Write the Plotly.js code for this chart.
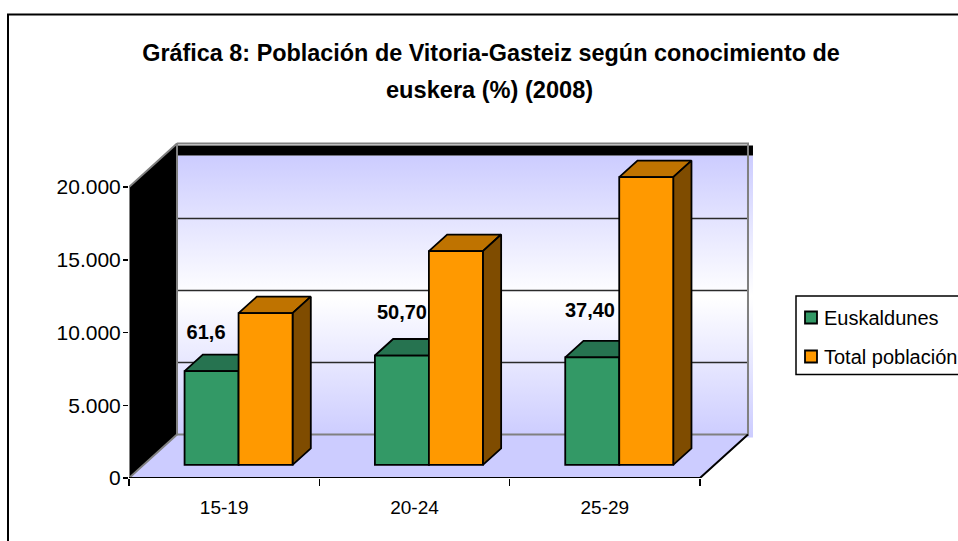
<!DOCTYPE html>
<html>
<head>
<meta charset="utf-8">
<script src="https://cdn.plot.ly/plotly-3.0.1.min.js"></script>
<style>html,body{margin:0;padding:0;background:#fff;overflow:hidden;width:958px;height:541px}</style>
</head>
<body>
<div id="chart"></div>
<script>
// ---- data ----
const categories = ['15-19', '20-24', '25-29'];
const euskaldunes = [6450, 7520, 7390];
const totalPoblacion = [10430, 14700, 19780];
const shareLabels = ['61,6', '50,70', '37,40'];
const yTickValues = [0, 5000, 10000, 15000, 20000];
const yTickLabels = ['0', '5.000', '10.000', '15.000', '20.000'];
const xTickEdges = [0, 1, 2, 3];
const titleLine1 = 'Gráfica 8: Población de Vitoria-Gasteiz según conocimiento de';
const titleLine2 = 'euskera (%) (2008)';

// ---- pseudo-3D projection on a normal cartesian subplot ----
const L = 129, R = 760, T = 130, B = 478, W = 990, H = 541;
const pxPerCat = 190.33, pxPerVal = 291 / 20000;
const xMax = (R - L) / pxPerCat, yMax = (B - T) / pxPerVal;
const DX = 48, DY = 43.5;                       // full depth of the floor, in px
const dx = d => d * DX / pxPerCat;              // depth d (0..1) -> x units
const dy = d => d * DY / pxPerVal;              // depth d (0..1) -> y units
const barFront = 0.30, barBack = 0.68;
const barW = 54 / pxPerCat;
const wallScale = 0.99;                         // the back wall is slightly foreshortened
const pX = v => (v - L) / (R - L), pY = v => (B - v) / (B - T);

function poly(xs, ys, fill, lineColor, lineW, z, extra) {
  return Object.assign({
    type: 'scatter', mode: lineColor ? 'lines' : 'none', x: xs, y: ys,
    fill: fill ? 'toself' : 'none', fillcolor: fill || undefined,
    line: {color: lineColor || 'rgba(0,0,0,0)', width: lineW || 0},
    showlegend: false, hoverinfo: 'skip', zorder: z, cliponaxis: false
  }, extra || {});
}

const traces = [];
const yTop = yTickValues[yTickValues.length - 1];
const catEnd = xTickEdges[xTickEdges.length - 1];

// back wall with its gradient
const wallRight = catEnd + dx(1) + 5 / pxPerCat;
const wallBottom = dy(1) - 3 / pxPerVal;
const bandBottom = dy(1) + yTop - 12 / pxPerVal;
traces.push(poly([dx(1), wallRight, wallRight, dx(1), dx(1)],
                 [wallBottom, wallBottom, bandBottom, bandBottom, wallBottom],
                 '#CCCCFF', null, 0, 0,
                 {fillgradient: {type: 'vertical', colorscale: [[0, '#CCCCFF'], [0.5, '#FFFFFF'], [1, '#CCCCFF']]}}));
// black band on top of the wall
traces.push(poly([dx(1), wallRight, wallRight, dx(1), dx(1)],
                 [bandBottom, bandBottom, yTop + dy(1) - 2 / pxPerVal, yTop + dy(1) - 2 / pxPerVal, bandBottom],
                 '#000000', null, 0, 0));
// floor
traces.push(poly([0, catEnd, catEnd + dx(1), dx(1), 0], [0, 0, dy(1), dy(1), 0], '#CCCCFF', null, 0, 0));
// gridlines on the wall
yTickValues.slice(1, -1).forEach(v => {
  traces.push(poly([dx(1), catEnd + dx(1)], [v * wallScale + dy(1), v * wallScale + dy(1)], null, '#2a2a2a', 1.5, 0));
});
// wall outline
traces.push(poly([dx(1), catEnd + dx(1), catEnd + dx(1)], [dy(1), dy(1), yTop + dy(1)], null, '#808080', 2, 0));
traces.push(poly([dx(1), catEnd + dx(1), catEnd + dx(1)], [yTop + dy(1), yTop + dy(1), dy(1)], null, '#808080', 2, 0));
// left side wall
traces.push(poly([0, dx(1), dx(1), 0, 0], [0, dy(1), yTop + dy(1), yTop, 0], '#000000', '#808080', 2, 0));
// floor front edges / axis line
traces.push(poly([0, catEnd, catEnd + dx(1)], [0, 0, dy(1)], null, '#000000', 2, 0));

// 3-D faces of every bar
function addBars(values, name, group, colFront, colTop, colSide, slot, z) {
  const xl = categories.map((c, i) => i + 0.5 + dx(barFront) + (slot - 1) * barW);
  values.forEach((v, i) => {
    const x0 = xl[i], x1 = x0 + barW;
    const top = v + dy(barFront);
    const d = barBack - barFront;
    traces.push(poly([x0, x1, x1 + dx(d), x0 + dx(d), x0], [top, top, top + dy(d), top + dy(d), top], colTop, '#000000', 1.8, z));
    traces.push(poly([x1, x1 + dx(d), x1 + dx(d), x1, x1], [top, top + dy(d), dy(barBack), dy(barFront), top], colSide, '#000000', 1.8, z));
  });
  traces.push({
    type: 'bar', name: name, legendgroup: group,
    x: xl.map(v => v + barW / 2), y: values, base: values.map(() => dy(barFront)), width: barW,
    marker: {color: colFront, line: {color: '#000000', width: 1.8}},
    hoverinfo: 'x+y', zorder: z + 1
  });
}
addBars(euskaldunes, 'Euskaldunes', 'g1', '#339966', '#267350', '#1A4D33', 0, 1);
addBars(totalPoblacion, 'Total población', 'g2', '#FF9900', '#BF7300', '#7F4C00', 1, 3);

// share labels
traces.push({
  type: 'scatter', mode: 'text',
  x: categories.map((c, i) => i + [0.405, 0.434, 0.422][i]),
  y: euskaldunes.map((v, i) => v + [3420, 3730, 3990][i]),
  text: shareLabels, textposition: 'middle center',
  textfont: {family: 'Liberation Sans, Arial, sans-serif', size: 20, color: '#000', weight: 700},
  showlegend: false, hoverinfo: 'skip', zorder: 5, cliponaxis: false
});

const font = {family: 'Liberation Sans, Arial, sans-serif', color: '#000'};
const layout = {
  width: W, height: H, autosize: false,
  margin: {l: L, r: W - R, t: T, b: H - B, autoexpand: false},
  paper_bgcolor: '#fff', plot_bgcolor: 'rgba(0,0,0,0)',
  barmode: 'overlay', font: font,
  title: {
    text: '<b>' + titleLine1 + '</b>', xref: 'paper', yref: 'container',
    x: pX(491), xanchor: 'center', y: 1 - 53 / H, yanchor: 'middle',
    font: Object.assign({}, font, {size: 23.4})
  },
  annotations: [{
    text: '<b>' + titleLine2 + '</b>', xref: 'paper', yref: 'paper', showarrow: false,
    x: pX(490), y: pY(90), xanchor: 'center', yanchor: 'middle',
    font: Object.assign({}, font, {size: 23.6})
  }],
  xaxis: {
    range: [0, xMax], tickmode: 'array',
    tickvals: categories.map((c, i) => i + 0.5), ticktext: categories,
    ticks: '', ticklabelstandoff: 16, showgrid: false, zeroline: false, showline: false,
    tickfont: Object.assign({}, font, {size: 19}),
    minor: {tickmode: 'array', tickvals: xTickEdges, ticks: 'outside', ticklen: 7, tickwidth: 1.5, tickcolor: '#000', showgrid: false}
  },
  yaxis: {
    range: [0, yMax], tickmode: 'array', tickvals: yTickValues, ticktext: yTickLabels,
    ticks: 'outside', ticklen: 5, tickwidth: 1.5, tickcolor: '#000', ticklabelstandoff: -2,
    showgrid: false, zeroline: false, showline: false,
    tickfont: Object.assign({}, font, {size: 21})
  },
  legend: {
    x: pX(784), y: pY(298), xanchor: 'left', yanchor: 'top',
    bgcolor: 'rgba(0,0,0,0)', borderwidth: 0,
    traceorder: 'grouped', tracegroupgap: 10,
    font: Object.assign({}, font, {size: 20})
  },
  shapes: [
    {type: 'rect', xref: 'paper', yref: 'paper', layer: 'below', x0: pX(8), x1: pX(985), y0: pY(14.5), y1: pY(560), line: {color: '#000', width: 2}},
    {type: 'rect', xref: 'paper', yref: 'paper', layer: 'below', x0: pX(796), x1: pX(985), y0: pY(296), y1: pY(374.5), line: {color: '#000', width: 1.5}}
  ]
};

Plotly.newPlot('chart', traces, layout, {displayModeBar: false, staticPlot: true}).then(() => {
  // the reference keeps its legend swatches closer to the text than Plotly's default
  document.querySelectorAll('.legend .legendsymbols').forEach(g => g.setAttribute('transform', 'translate(7,0)'));
});
</script>
</body>
</html>
